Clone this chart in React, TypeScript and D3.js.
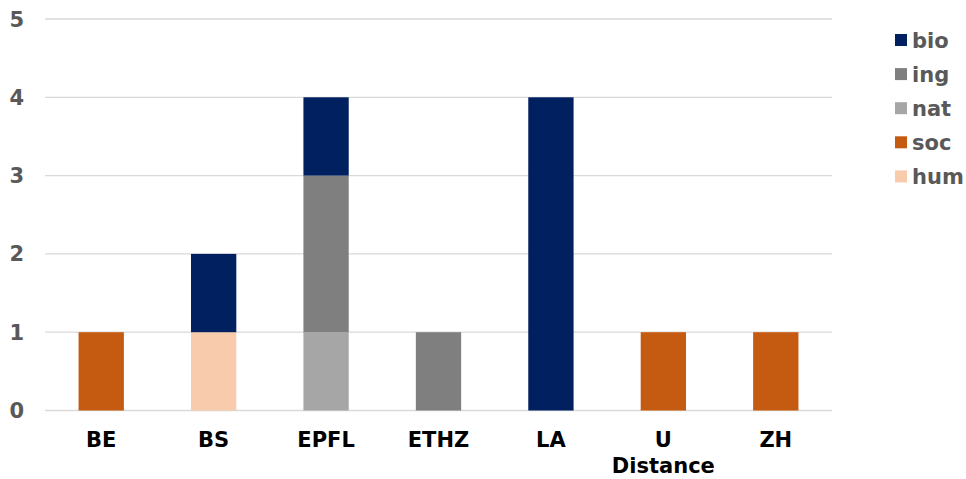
import React from "react";
import * as d3 from "d3";

const categories = ["BE", "BS", "EPFL", "ETHZ", "LA", "U Distance", "ZH"];
const seriesNames = ["hum", "soc", "nat", "ing", "bio"];
const hum = [0, 1, 0, 0, 0, 0, 0];
const soc = [1, 0, 0, 0, 0, 1, 1];
const nat = [0, 0, 1, 0, 0, 0, 0];
const ing = [0, 0, 2, 1, 0, 0, 0];
const bio = [0, 1, 1, 0, 4, 0, 0];
const colors: Record<string, string> = {
  bio: "#002060",
  ing: "#7f7f7f",
  nat: "#a6a6a6",
  soc: "#c55a11",
  hum: "#f8cbad",
};
const legendOrder = ["bio", "ing", "nat", "soc", "hum"];
const yTicks = [0, 1, 2, 3, 4, 5];

const W = 966, H = 479;
const left = 45, right = 832, top = 19, bottom = 410.5;
const FONT = "'DejaVu Sans', Verdana, sans-serif";

export default function App() {
  const valuesBy: Record<string, number[]> = { hum, soc, nat, ing, bio };
  const rows = categories.map((c, i) => {
    const r: any = { cat: c };
    seriesNames.forEach((s) => (r[s] = valuesBy[s][i]));
    return r;
  });
  const stacked = d3.stack<any>().keys(seriesNames)(rows);
  const x = d3.scaleBand().domain(categories).range([left, right]).paddingInner(0.597).paddingOuter(0.2985);
  const y = d3.scaleLinear().domain([0, 5]).range([bottom, top]);

  return (
    <svg width={W} height={H} style={{ position: "absolute", left: 0, top: 0, background: "#fff" }} fontFamily={FONT}>
      {yTicks.map((t) => (
        <g key={t}>
          <line x1={left} x2={right} y1={y(t)} y2={y(t)} stroke="#d9d9d9" strokeWidth={t === 0 ? 1.5 : 1.3} />
          <text x={24} y={y(t)} dy="0.36em" textAnchor="end" fontSize={21} fontWeight="bold" fill="#595959">
            {t}
          </text>
        </g>
      ))}
      {stacked.map((layer) => (
        <g key={layer.key} fill={colors[layer.key]}>
          {layer.map((d, i) =>
            d[1] - d[0] > 0 ? (
              <rect key={i} x={x(categories[i])} width={x.bandwidth()} y={y(d[1])} height={y(d[0]) - y(d[1])} />
            ) : null
          )}
        </g>
      ))}
      {categories.map((c) => {
        const cx = (x(c) as number) + x.bandwidth() / 2;
        const parts = c === "U Distance" ? ["U", "Distance"] : [c];
        return (
          <text key={c} x={cx} y={447} textAnchor="middle" fontSize={21} fontWeight="bold" fill="#000">
            {parts.map((p, j) => (
              <tspan key={j} x={cx} dy={j === 0 ? 0 : 25.5}>
                {p}
              </tspan>
            ))}
          </text>
        );
      })}
      {legendOrder.map((s, i) => {
        const cy = 40 + i * 34.1;
        return (
          <g key={s}>
            <rect x={895} y={cy - 6} width={12} height={12} fill={colors[s]} />
            <text x={912} y={cy} dy="0.36em" fontSize={21} fontWeight="bold" fill="#595959">
              {s}
            </text>
          </g>
        );
      })}
    </svg>
  );
}
